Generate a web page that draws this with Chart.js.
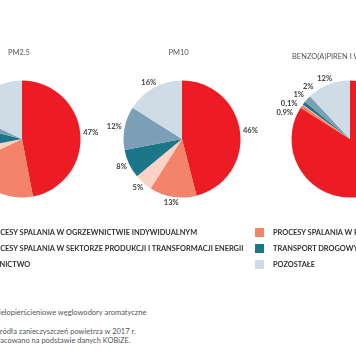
<!DOCTYPE html>
<html lang="pl">
<head>
<meta charset="utf-8">
<script src="https://cdn.jsdelivr.net/npm/chart.js@4.4.1/dist/chart.umd.min.js"></script>
<style>
  html, body { margin:0; padding:0; background:#fff; }
  body { width:356px; height:364px; overflow:hidden; position:relative; font-family: Lato, "Open Sans", sans-serif; }
  canvas.pie { position:absolute; }
  .title { position:absolute; font-size:7.5px; color:#555; white-space:nowrap; line-height:1; }
  .lg { position:absolute; font-size:7.4px; font-weight:700; color:#333; white-space:nowrap; line-height:1; }
  .sq { position:absolute; width:9px; height:9px; }
  .fn { position:absolute; font-size:7.5px; color:#555; white-space:nowrap; line-height:1; }
</style>
</head>
<body>
<script>
// ---------------- DATA ----------------
const categories = [
  "PROCESY SPALANIA W OGRZEWNICTWIE INDYWIDUALNYM",
  "PROCESY SPALANIA W PRZEMYŚLE",
  "PROCESY SPALANIA W SEKTORZE PRODUKCJI I TRANSFORMACJI ENERGII",
  "TRANSPORT DROGOWY",
  "ROLNICTWO",
  "POZOSTAŁE"
];
const seriesTitles = ["PM2.5", "PM10", "BENZO(A)PIREN I WWA*"];
const pm25Values = [47, 21, 4, 7, 3, 18];
const pm10Values = [46, 13, 5, 8, 12, 16];
const bapValues  = [84, 0.9, 0.1, 1, 2, 12];
const footnotes = [
  "*wielopierścieniowe węglowodory aromatyczne",
  "Źródła zanieczyszczeń powietrza w 2017 r.",
  "Opracowano na podstawie danych KOBiZE."
];

// ---------------- STYLE / LAYOUT ----------------
const sliceColors = ["#ED1C24", "#F3846A", "#FBD2C3", "#1B7688", "#7B9FB6", "#CFDCE6"];
const pieRadius = 58.5;
const canvasSize = 200;
const pieLayout = [
  { cx: 22,  cy: 138.5, titleX: 19,  titleY: 52.5, titleAlign: "center" },
  { cx: 182, cy: 138.5, titleX: 178.5, titleY: 52.5, titleAlign: "center" },
  { cx: 350, cy: 138.5, titleX: 292, titleY: 57, titleAlign: "left" }
];
const legendCols = [{ sq: -32, tx: -15 }, { sq: 255, tx: 273 }];
const legendRowsY = [232.5, 248.7, 264.9];
const footLayout = [{ x: -10, y: 312.3 }, { x: -4.6, y: 331.7 }, { x: -12.6, y: 340.7 }];

function fmtPct(v) { return String(v).replace(".", ",") + "%"; }

const outsideLabels = {
  id: "outsideLabels",
  afterDatasetsDraw(chart) {
    const ctx = chart.ctx;
    const meta = chart.getDatasetMeta(0);
    const ds = chart.data.datasets[0];
    ctx.save();
    ctx.font = "700 7.5px Lato";
    ctx.fillStyle = "#404040";
    ctx.textAlign = "center";
    ctx.textBaseline = "middle";
    const pad = 3, h = 6.5, gap = 8.8;
    const items = meta.data.map((arc, i) => {
      const p = arc.getProps(["x", "y", "startAngle", "endAngle", "outerRadius"], true);
      const mid = (p.startAngle + p.endAngle) / 2;
      const dx = Math.cos(mid), dy = Math.sin(mid);
      const text = fmtPct(ds.data[i]);
      const w = ctx.measureText(text).width;
      const R = p.outerRadius + pad;
      return { text, w, cx: p.x, cy: p.y, R, side: dx < 0 ? -1 : 1,
               x: p.x + dx * R + dx * w / 2, y: p.y + dy * R + dy * h / 2 };
    });
    const place = (it) => {
      const cornerY = it.y + (it.y < it.cy ? h / 2 : -h / 2);
      const ddy = cornerY - it.cy;
      const ddx = Math.sqrt(Math.max(0, it.R * it.R - ddy * ddy));
      it.x = it.cx + it.side * ddx + it.side * it.w / 2;
    };
    [-1, 1].forEach(side => {
      const L = items.filter(it => it.side === side).sort((a, b) => a.y - b.y);
      if (L.length < 2) return;
      for (let iter = 0; iter < 10; iter++) {
        let changed = false;
        const groups = [];
        let cur = [L[0]];
        for (let k = 1; k < L.length; k++) {
          const a = L[k - 1], b = L[k];
          const ox = Math.abs(a.x - b.x) < (a.w + b.w) / 2;
          if (b.y - a.y < gap - 0.01 && ox) cur.push(b); else { groups.push(cur); cur = [b]; }
        }
        groups.push(cur);
        groups.forEach(g => {
          if (g.length < 2) return;
          const mean = g.reduce((s, it) => s + it.y, 0) / g.length;
          g.forEach((it, j) => {
            const ny = mean + (j - (g.length - 1) / 2) * gap;
            if (Math.abs(ny - it.y) > 0.01) { it.y = ny; changed = true; place(it); }
          });
        });
        if (!changed) break;
      }
    });
    items.forEach(it => ctx.fillText(it.text, it.x, it.y));
    ctx.restore();
  }
};

const allValues = [pm25Values, pm10Values, bapValues];

function build() {
  allValues.forEach((vals, i) => {
    const lay = pieLayout[i];
    const cv = document.createElement("canvas");
    cv.className = "pie";
    cv.width = canvasSize; cv.height = canvasSize;
    cv.style.width = canvasSize + "px"; cv.style.height = canvasSize + "px";
    cv.style.left = (lay.cx - canvasSize / 2) + "px";
    cv.style.top = (lay.cy - canvasSize / 2) + "px";
    document.body.appendChild(cv);
    new Chart(cv, {
      type: "pie",
      data: { labels: categories, datasets: [{ data: vals, backgroundColor: sliceColors, borderWidth: 0, radius: pieRadius }] },
      options: {
        responsive: false, animation: false, devicePixelRatio: 1, events: [],
        layout: { padding: 0 },
        plugins: { legend: { display: false }, tooltip: { enabled: false }, title: { display: false } }
      },
      plugins: [outsideLabels]
    });
    const t = document.createElement("div");
    t.className = "title";
    t.textContent = seriesTitles[i];
    t.style.top = (lay.titleY - 3.75) + "px";
    t.style.left = lay.titleX + "px";
    if (lay.titleAlign === "center") t.style.transform = "translateX(-50%)";
    document.body.appendChild(t);
  });

  categories.forEach((name, i) => {
    const col = legendCols[i % 2];
    const y = legendRowsY[Math.floor(i / 2)];
    const sq = document.createElement("div");
    sq.className = "sq";
    sq.style.background = sliceColors[i];
    sq.style.left = col.sq + "px";
    sq.style.top = (y - 4.5) + "px";
    document.body.appendChild(sq);
    const tx = document.createElement("div");
    tx.className = "lg";
    tx.textContent = name;
    tx.style.left = col.tx + "px";
    tx.style.top = (y - 3.7) + "px";
    document.body.appendChild(tx);
  });

  footnotes.forEach((txt, i) => {
    const d = document.createElement("div");
    d.className = "fn";
    d.textContent = txt;
    d.style.left = footLayout[i].x + "px";
    d.style.top = (footLayout[i].y - 3.75) + "px";
    document.body.appendChild(d);
  });
}

if (document.fonts && document.fonts.load) {
  Promise.all([document.fonts.load("7.5px Lato"), document.fonts.load("700 7.5px Lato")]).then(build, build);
} else { build(); }
</script>
</body>
</html>
